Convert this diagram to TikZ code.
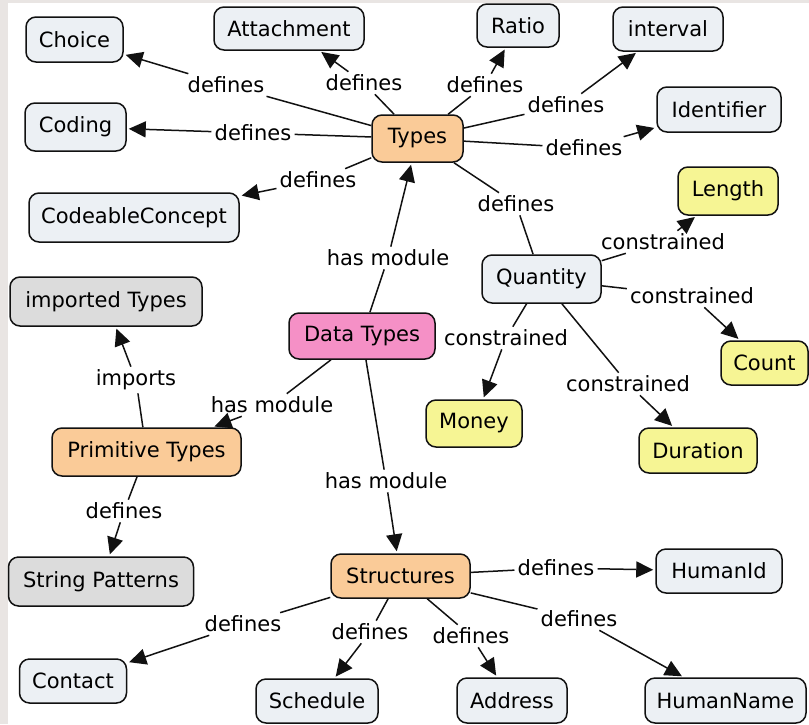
\documentclass[tikz,border=0pt]{standalone}
\usepackage{fontspec}
\setmainfont{DejaVu Sans}
\usetikzlibrary{arrows.meta}
\definecolor{cblue}{HTML}{ECF0F4}
\definecolor{corange}{HTML}{FACB98}
\definecolor{cpink}{HTML}{F590C6}
\definecolor{cyellow}{HTML}{F6F594}
\definecolor{cgray}{HTML}{DCDCDC}
\definecolor{cframe}{HTML}{E9E5E3}
\definecolor{cline}{HTML}{111111}
\tikzset{
  box/.style={draw=cline, line width=1.5pt, rounded corners=10pt, inner sep=0pt,
    font=\fontsize{21}{25}\selectfont, text=black},
  lbl/.style={inner sep=3pt, font=\fontsize{21}{25}\selectfont, text=black},
  con/.style={draw=cline, line width=1.5pt},
  arr/.style={con, -{Triangle[length=17pt,width=16pt]}, shorten >=2pt},
}
\begin{document}
\begin{tikzpicture}[x=1pt,y=-1pt]
\useasboundingbox (0,0) rectangle (809,724);
\fill[cframe] (0,0) rectangle (809,724);
\fill[white] (8,3) rectangle (809,724);

% nodes
\node[box, fill=cblue, minimum width=97pt, minimum height=45pt] (choice) at (74.5,39.5) {Choice};
\node[box, fill=cblue, minimum width=150pt, minimum height=43pt] (attach) at (289,28.5) {Attachment};
\node[box, fill=cblue, minimum width=101pt, minimum height=48pt] (coding) at (75.5,127) {Coding};
\node[box, fill=cblue, minimum width=210pt, minimum height=49pt] (cc) at (134,217.5) {CodeableConcept};
\node[box, fill=corange, minimum width=91pt, minimum height=47pt] (types) at (417.5,138.5) {Types};
\node[box, fill=cblue, minimum width=82pt, minimum height=43pt] (ratio) at (518,25.5) {Ratio};
\node[box, fill=cblue, minimum width=110pt, minimum height=44pt] (interval) at (668,29) {interval};
\node[box, fill=cblue, minimum width=124pt, minimum height=45pt] (ident) at (719,109.5) {Identifier};
\node[box, fill=cyellow, minimum width=100pt, minimum height=48pt] (length) at (728,191) {Length};
\node[box, fill=cgray, minimum width=192pt, minimum height=49pt] (imported) at (106,301.5) {imported Types};
\node[box, fill=cpink, minimum width=146pt, minimum height=46pt] (data) at (362,336) {Data Types};
\node[box, fill=corange, minimum width=189pt, minimum height=48pt] (prim) at (146.5,452) {Primitive Types};
\node[box, fill=cblue, minimum width=119pt, minimum height=48pt] (quant) at (541.5,279) {Quantity};
\node[box, fill=cyellow, minimum width=87pt, minimum height=44pt] (count) at (764.5,363) {Count};
\node[box, fill=cyellow, minimum width=96pt, minimum height=47pt] (money) at (474,423.5) {Money};
\node[box, fill=cyellow, minimum width=118pt, minimum height=45pt] (dur) at (698,450.5) {Duration};
\node[box, fill=cgray, minimum width=185pt, minimum height=49pt] (strpat) at (101,581.5) {String Patterns};
\node[box, fill=corange, minimum width=139pt, minimum height=44pt] (struct) at (400.5,576) {Structures};
\node[box, fill=cblue, minimum width=126pt, minimum height=44pt] (humanid) at (719,571) {HumanId};
\node[box, fill=cblue, minimum width=107pt, minimum height=44pt] (contact) at (73,681) {Contact};
\node[box, fill=cblue, minimum width=122pt, minimum height=44pt] (sched) at (317,701) {Schedule};
\node[box, fill=cblue, minimum width=110pt, minimum height=45pt] (addr) at (512,700.5) {Address};
\node[box, fill=cblue, minimum width=161pt, minimum height=45pt] (hname) at (725.5,700.5) {HumanName};

% labels
\node[lbl] (l1) at (226,85) {defines};
\node[lbl] (l2) at (364,83) {defines};
\node[lbl] (l3) at (485,85) {defines};
\node[lbl] (l4) at (566,105) {defines};
\node[lbl] (l5) at (584,148) {defines};
\node[lbl] (l6) at (253,133) {defines};
\node[lbl] (l7) at (318,180) {defines};
\node[lbl] (l8) at (516,204) {defines};
\node[lbl] (l9) at (388,258) {has module};
\node[lbl] (l10) at (663,242) {constrained};
\node[lbl] (l11) at (692,296) {constrained};
\node[lbl] (l12) at (506,338) {constrained};
\node[lbl] (l13) at (628,384) {constrained};
\node[lbl] (l14) at (136,380) {imports};
\node[lbl] (l15) at (272,405) {has module};
\node[lbl] (l16) at (124,511) {defines};
\node[lbl] (l17) at (386,481) {has module};
\node[lbl] (l18) at (556,568) {defines};
\node[lbl] (l19) at (243,624) {defines};
\node[lbl] (l20) at (370,632) {defines};
\node[lbl] (l21) at (471,636) {defines};
\node[lbl] (l22) at (579,619) {defines};

% connectors
\draw[con] (types) -- (l1); \draw[arr] (l1) -- (choice);
\draw[con] (types) -- (l2); \draw[arr] (l2) -- (attach);
\draw[con] (types) -- (l3); \draw[arr] (l3) -- (ratio);
\draw[con] (types) -- (l4); \draw[arr] (l4) -- (interval);
\draw[con] (types) -- (l5); \draw[arr] (l5) -- (ident);
\draw[con] (types) -- (l6); \draw[arr] (l6) -- (coding);
\draw[con] (types) -- (l7); \draw[arr] (l7) -- (cc);
\draw[con] (types) -- (l8); \draw[con] (l8) -- (quant);
\draw[con] (data) -- (l9); \draw[arr] (l9) -- (types);
\draw[con] (quant) -- (l10); \draw[arr] (l10) -- (length);
\draw[con] (quant) -- (l11); \draw[arr] (l11) -- (count);
\draw[con] (quant) -- (l12); \draw[arr] (l12) -- (money);
\draw[con] (quant) -- (l13); \draw[arr] (l13) -- (dur);
\draw[con] (prim) -- (l14); \draw[arr] (l14) -- (imported);
\draw[con] (data) -- (l15); \draw[arr] (l15) -- (prim);
\draw[con] (prim) -- (l16); \draw[arr] (l16) -- (strpat);
\draw[con] (data) -- (l17); \draw[arr] (l17) -- (struct);
\draw[con] (struct) -- (l18); \draw[arr] (l18) -- (humanid);
\draw[con] (struct) -- (l19); \draw[arr] (l19) -- (contact);
\draw[con] (struct) -- (l20); \draw[arr] (l20) -- (sched);
\draw[con] (struct) -- (l21); \draw[arr] (l21) -- (addr);
\draw[con] (struct) -- (l22); \draw[arr] (l22) -- (hname);
\end{tikzpicture}
\end{document}
